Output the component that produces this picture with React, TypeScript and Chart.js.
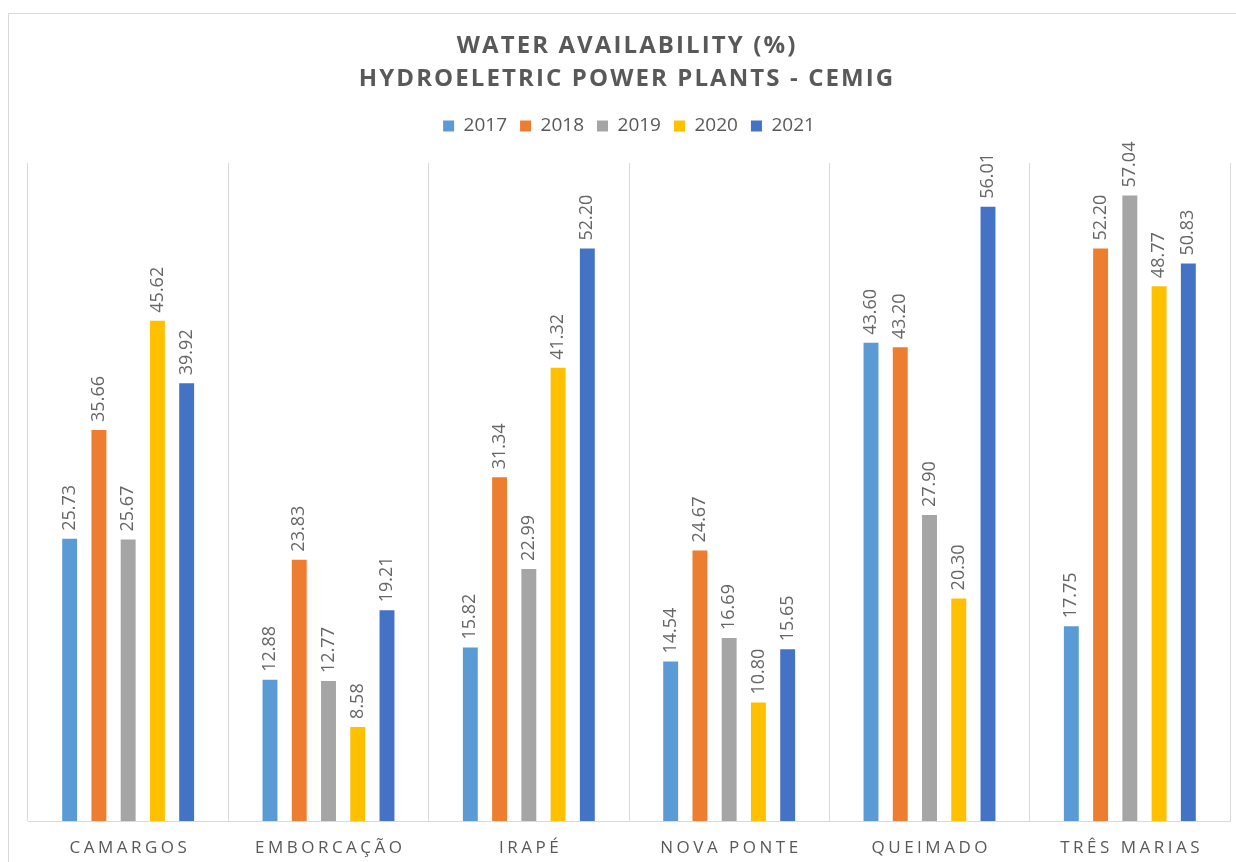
import React, { useEffect, useRef } from "react";
import { Chart, registerables } from "chart.js";

Chart.register(...registerables);

const categories = ["CAMARGOS", "EMBORCAÇÃO", "IRAPÉ", "NOVA PONTE", "QUEIMADO", "TRÊS MARIAS"];
const years = ["2017", "2018", "2019", "2020", "2021"];
const v2017 = [25.73, 12.88, 15.82, 14.54, 43.6, 17.75];
const v2018 = [35.66, 23.83, 31.34, 24.67, 43.2, 52.2];
const v2019 = [25.67, 12.77, 22.99, 16.69, 27.9, 57.04];
const v2020 = [45.62, 8.58, 41.32, 10.8, 20.3, 48.77];
const v2021 = [39.92, 19.21, 52.2, 15.65, 56.01, 50.83];
const seriesValues = [v2017, v2018, v2019, v2020, v2021];
const colors = ["#5B9BD5", "#ED7D31", "#A5A5A5", "#FFC000", "#4472C4"];
const titleLines = ["WATER AVAILABILITY (%)", "HYDROELETRIC POWER PLANTS - CEMIG"];

const FONT = "'Open Sans', 'Noto Sans', sans-serif";

const overlayPlugin = {
  id: "overlay",
  afterDatasetsDraw(chart: any) {
    const ctx = chart.ctx;
    ctx.save();
    ctx.font = `18px ${FONT}`;
    ctx.fillStyle = "#666666";
    ctx.textAlign = "left";
    ctx.textBaseline = "middle";
    chart.data.datasets.forEach((ds: any, di: number) => {
      const meta = chart.getDatasetMeta(di);
      meta.data.forEach((bar: any, i: number) => {
        const v = ds.data[i];
        ctx.save();
        ctx.translate(bar.x, bar.y - 8);
        ctx.rotate(-Math.PI / 2);
        ctx.fillText(v.toFixed(2), 0, 0);
        ctx.restore();
      });
    });
    ctx.restore();
  },
  afterDraw(chart: any) {
    const ctx = chart.ctx;
    const ca = chart.chartArea;
    ctx.save();
    // title
    ctx.fillStyle = "#595959";
    ctx.textAlign = "center";
    ctx.textBaseline = "middle";
    ctx.font = `bold 24px ${FONT}`;
    const ls = 2.1;
    (ctx as any).letterSpacing = `${ls}px`;
    const cx = 617;
    ctx.fillText(titleLines[0], cx + ls / 2, 32);
    ctx.fillText(titleLines[1], cx + ls / 2, 65.5);
    // x labels
    const xs = chart.scales.x;
    const ls2 = 3.5;
    (ctx as any).letterSpacing = `${ls2}px`;
    ctx.font = `17px ${FONT}`;
    categories.forEach((c, i) => {
      ctx.fillText(c, xs.getPixelForValue(i) + ls2 / 2, ca.bottom + 27);
    });
    ctx.restore();
  },
};

export default function App() {
  const ref = useRef<HTMLCanvasElement>(null);
  useEffect(() => {
    if (!ref.current) return;
    const chart = new Chart(ref.current, {
      type: "bar",
      data: {
        labels: categories,
        datasets: years.map((y, i) => ({
          label: y,
          data: seriesValues[i],
          backgroundColor: colors[i],
          borderWidth: 0,
          categoryPercentage: 0.73,
          barPercentage: 0.51,
        })),
      },
      options: {
        responsive: false,
        maintainAspectRatio: false,
        animation: false,
        layout: { padding: { top: 89.5, left: 19, right: 6, bottom: 41 } },
        plugins: {
          title: { display: false },
          subtitle: {
            display: true,
            text: "",
            weight: 500,
            font: { size: 1 },
            color: "transparent",
            padding: { top: 0, bottom: 16.3 },
          } as any,
          legend: {
            display: true,
            position: "top",
            labels: {
              boxWidth: 11,
              boxHeight: 11,
              padding: 13,
              color: "#595959",
              font: { family: FONT, size: 19 },
            },
          },
          tooltip: { enabled: false },
        },
        scales: {
          x: {
            grid: { color: "#d9d9d9", lineWidth: 1, drawTicks: false, offset: true },
            border: { display: true, color: "#d9d9d9", width: 1 },
            ticks: { display: false },
          },
          y: { display: false, min: 0, max: 60 },
        },
      },
      plugins: [overlayPlugin],
    });
    return () => chart.destroy();
  }, []);
  return (
    <div
      style={{
        position: "fixed",
        left: 8,
        top: 13,
        width: 1240,
        height: 860,
        borderTop: "1px solid #d9d9d9",
        borderLeft: "1px solid #d9d9d9",
        background: "#ffffff",
      }}
    >
      <canvas
        ref={ref}
        width={1227}
        height={848}
        style={{ position: "absolute", left: 0, top: 0, width: 1227, height: 848 }}
      />
    </div>
  );
}
